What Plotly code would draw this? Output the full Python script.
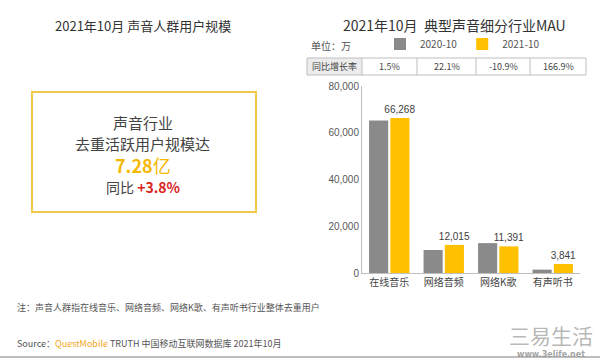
import plotly.graph_objects as go

categories = ["在线音乐", "网络音频", "网络K歌", "有声听书"]
mau_2020 = [65289, 9840, 12784, 1439]
mau_2021 = [66268, 12015, 11391, 3841]
growth = ["1.5%", "22.1%", "-10.9%", "166.9%"]
ytick_vals = [0, 20000, 40000, 60000, 80000]
ytick_text = ["0", "20,000", "40,000", "60,000", "80,000"]

FONT = "Noto Sans CJK SC"
GRAY = "#8a8a8a"
GOLD = "#FFC000"

fig = go.Figure()
fig.add_trace(go.Bar(x=categories, y=mau_2020, name="2020-10",
                     marker=dict(color=GRAY, line=dict(width=0))))
fig.add_trace(go.Bar(x=categories, y=mau_2021, name="2021-10",
                     marker=dict(color=GOLD, line=dict(width=0)),
                     text=[f"{v:,}" for v in mau_2021], textposition="outside",
                     constraintext="none",
                     textfont=dict(size=10, color="#404040", family="Liberation Sans"),
                     cliponaxis=False))

ann = []
shapes = []

# titles
ann.append(dict(text="2021年10月 声音人群用户规模", x=143, y=25, showarrow=False,
                font=dict(size=13, color="#333", family=FONT)))
ann.append(dict(text="2021年10月  典型声音细分行业MAU", x=454, y=25, showarrow=False,
                font=dict(size=14, color="#333", family=FONT)))
ann.append(dict(text="单位：万", x=331, y=45, showarrow=False,
                font=dict(size=10, color="#555", family=FONT)))

# left box
shapes.append(dict(type="rect", xref="paper", yref="paper", x0=32, x1=256, y0=92, y1=212,
                   line=dict(color="#F2C94C", width=2), fillcolor="rgba(255,255,255,0.6)"))
ann.append(dict(text="声音行业", x=143, y=122, showarrow=False,
                font=dict(size=15, color="#444", family=FONT)))
ann.append(dict(text="去重活跃用户规模达", x=143, y=143, showarrow=False,
                font=dict(size=15, color="#444", family=FONT)))
ann.append(dict(text="<b>7.28</b>亿", x=143, y=165, showarrow=False,
                font=dict(size=18, color="#F5B800", family=FONT)))
ann.append(dict(text="同比 <b><span style='color:#D9241C'>+3.8%</span></b>", x=143, y=187,
                showarrow=False, font=dict(size=14, color="#444", family=FONT)))

# growth table
tx = [307, 362, 417, 476, 530, 586]
ty0, ty1 = 58, 75
tyc = (ty0 + ty1) / 2
shapes.append(dict(type="rect", xref="paper", yref="paper", x0=tx[0], x1=tx[1], y0=ty0, y1=ty1,
                   line=dict(width=0), fillcolor="#ececec"))
shapes.append(dict(type="rect", xref="paper", yref="paper", x0=tx[0], x1=tx[-1], y0=ty0, y1=ty1,
                   line=dict(color="#bfbfbf", width=1)))
for xv in tx[1:-1]:
    shapes.append(dict(type="line", xref="paper", yref="paper", x0=xv, x1=xv, y0=ty0, y1=ty1,
                       line=dict(color="#bfbfbf", width=1)))
ann.append(dict(text="同比增长率", x=(tx[0] + tx[1]) / 2, y=tyc, showarrow=False,
                font=dict(size=9, color="#444", family=FONT)))
for i, g in enumerate(growth):
    ann.append(dict(text=g, x=(tx[i + 1] + tx[i + 2]) / 2, y=tyc, showarrow=False,
                    font=dict(size=9, color="#444", family=FONT)))

# footer
ann.append(dict(text="注：声音人群指在线音乐、网络音频、网络K歌、有声听书行业整体去重用户", x=15, y=307,
                xanchor="left", showarrow=False, font=dict(size=9, color="#555", family=FONT)))
ann.append(dict(text="Source：<span style='color:#F5A623'>QuestMobile</span> TRUTH 中国移动互联网数据库 2021年10月",
                x=15, y=343, xanchor="left", showarrow=False,
                font=dict(size=9, color="#555", family=FONT)))
shapes.append(dict(type="line", xref="paper", yref="paper", x0=0, x1=600, y0=357, y1=357,
                   line=dict(color="#bdbdbd", width=2)))
ann.append(dict(text="三易生活", x=551, y=335, showarrow=False,
                font=dict(size=21, color="rgba(120,120,120,0.55)", family=FONT)))
ann.append(dict(text="<b>www.3elife.net</b>", x=551, y=354, showarrow=False,
                font=dict(size=8, color="rgba(140,140,140,0.8)", family="DejaVu Sans")))

# convert pixel coords to paper fractions
L, R, T, B = 362, 20, 86, 88
W, H = 600, 361
pw, ph = W - L - R, H - T - B
def px(x): return (x - L) / pw
def py(y): return (H - B - y) / ph
for a in ann:
    a["xref"] = "paper"; a["yref"] = "paper"
    a["x"] = px(a["x"]); a["y"] = py(a["y"])
    a.setdefault("xanchor", "center"); a.setdefault("yanchor", "middle")
for s in shapes:
    s["x0"] = px(s["x0"]); s["x1"] = px(s["x1"])
    s["y0"] = py(s["y0"]); s["y1"] = py(s["y1"])

fig.update_layout(
    width=W, height=H, margin=dict(l=L, r=R, t=T, b=B),
    paper_bgcolor="white", plot_bgcolor="rgba(0,0,0,0)",
    barmode="group", bargap=0.22, bargroupgap=0.1,
    font=dict(family=FONT, size=10, color="#555"),
    annotations=ann, shapes=shapes,
    showlegend=True,
    legend=dict(orientation="h", x=px(380), y=py(44), xanchor="left", yanchor="middle",
                font=dict(size=10, color="#555", family=FONT), itemwidth=30,
                bgcolor="rgba(0,0,0,0)", traceorder="normal"),
    yaxis=dict(range=[0, 80000], tickvals=ytick_vals, ticktext=ytick_text, showgrid=False,
               showline=True, linecolor="#bfbfbf", ticks="", zeroline=False,
               tickfont=dict(size=10, color="#595959", family="Liberation Sans")),
    xaxis=dict(showline=True, linecolor="#bfbfbf", ticks="", showgrid=False,
               tickfont=dict(size=10, color="#444")),
)

fig.write_html("out.html", config={"displayModeBar": False},
               post_script="document.body.style.margin='0';document.body.style.overflow='hidden';")
